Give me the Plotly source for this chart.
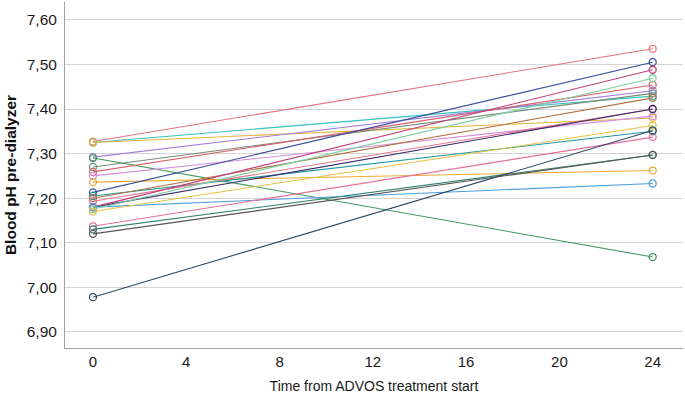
import plotly.graph_objects as go

times = [0, 24]
ph_start = [7.327, 7.325, 7.325, 7.292, 7.290, 7.270, 7.259, 7.250, 7.236, 7.213, 7.205,
            7.200, 7.193, 7.180, 7.180, 7.180, 7.175, 7.170, 7.137, 7.130, 7.120, 6.978]
ph_end = [7.535, 7.429, 7.380, 7.441, 7.068, 7.435, 7.454, 7.384, 7.262, 7.505, 7.350,
          7.425, 7.400, 7.400, 7.488, 7.233, 7.469, 7.363, 7.337, 7.297, 7.297, 7.352]
colors = ["#e8737a", "#36c0c0", "#e6b43c", "#a27de0", "#3e9a5e", "#7a8a78", "#d95f6a",
          "#d88ee0", "#f0a830", "#3b4fa0", "#1f9a9a", "#b0703c", "#e8738c", "#3a2a6e",
          "#c0407a", "#4a9ee0", "#7fd0a0", "#e8c040", "#e86e9c", "#2e8070", "#555555",
          "#2c4a6a"]

fig = go.Figure()
for s, e, c in zip(ph_start, ph_end, colors):
    fig.add_trace(go.Scatter(
        x=times, y=[s, e], mode="lines+markers",
        line=dict(color=c, width=1.1),
        marker=dict(symbol="circle-open", size=7, color=c, line=dict(width=1.3)),
        showlegend=False, hoverinfo="skip"))

fig.update_layout(
    width=685, height=396,
    margin=dict(l=65, r=2, t=2, b=48, autoexpand=False),
    paper_bgcolor="white", plot_bgcolor="white",
    separators=", ",
    font=dict(family="Liberation Sans, Arial, sans-serif", color="#222222"),
)
fig.update_xaxes(
    range=[-1.2, 25.3], tickvals=[0, 4, 8, 12, 16, 20, 24],
    showgrid=False, zeroline=False,
    showline=True, linecolor="#a0a0a0", linewidth=1,
    ticks="", tickfont=dict(size=15, color="#1a1a1a"),
    title=dict(text="Time from ADVOS treatment start", font=dict(size=14, color="#1a1a1a"), standoff=12),
)
fig.update_yaxes(
    range=[6.864, 7.64], tickvals=[6.9, 7.0, 7.1, 7.2, 7.3, 7.4, 7.5, 7.6], tickformat=".2f",
    showgrid=True, gridcolor="#d4d4d4", gridwidth=1, zeroline=False,
    showline=True, linecolor="#a0a0a0", linewidth=1,
    ticks="outside", ticklen=4, tickcolor="rgba(0,0,0,0)",
    tickfont=dict(size=15.5, color="#1a1a1a"),
    title=dict(text="<b>Blood pH pre-dialyzer</b>", font=dict(size=15.5, color="#111111"), standoff=6),
)

fig.write_html("out.html", config={"displayModeBar": False},
               post_script="document.body.style.margin='0';document.body.style.padding='0';")
